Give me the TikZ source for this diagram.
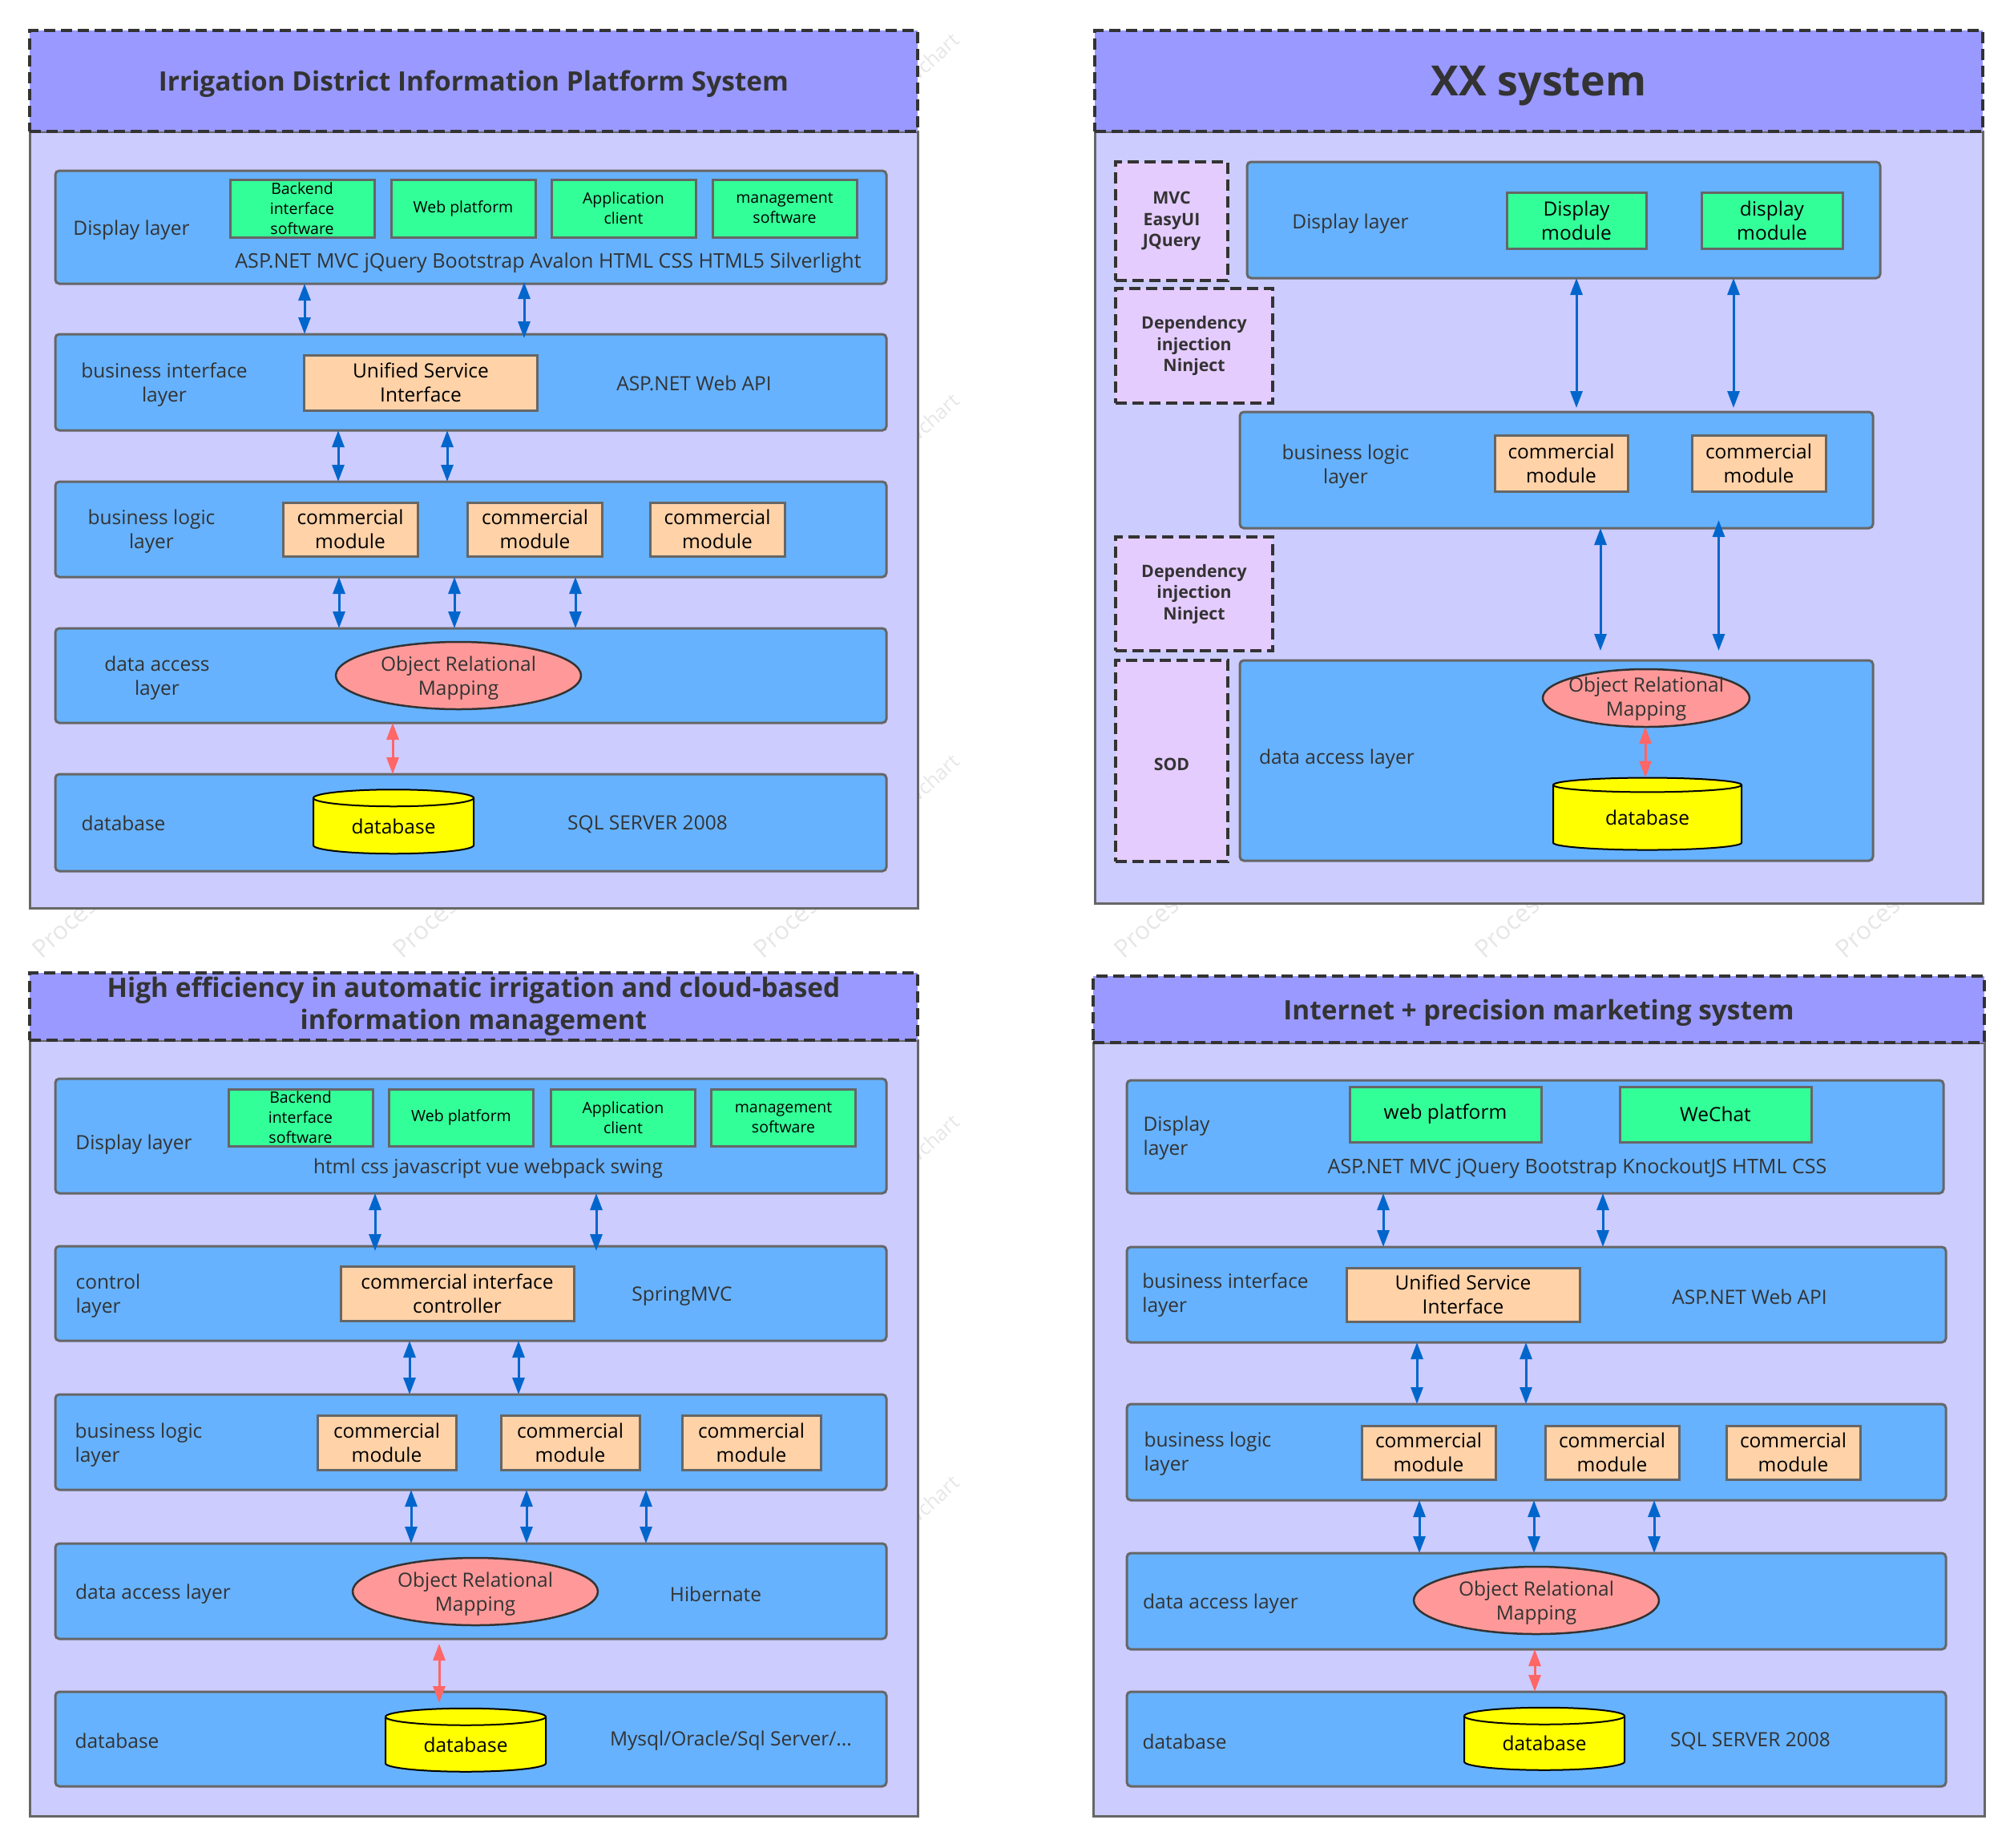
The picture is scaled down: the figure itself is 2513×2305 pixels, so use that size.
\documentclass[tikz,border=0pt]{standalone}
\usepackage{fontspec}
\setmainfont{Open Sans}
\usetikzlibrary{arrows.meta,shapes.geometric}
\definecolor{inktext}{HTML}{333333}
\definecolor{edgegray}{HTML}{666666}
\definecolor{headfill}{HTML}{9999FF}
\definecolor{bodyfill}{HTML}{CCCCFF}
\definecolor{layerfill}{HTML}{66B2FF}
\definecolor{greenfill}{HTML}{33FF99}
\definecolor{orangefill}{HTML}{FFD2A8}
\definecolor{pinkfill}{HTML}{FF9999}
\definecolor{sidefill}{HTML}{E5CCFF}
\definecolor{dbfill}{HTML}{FFFF00}
\definecolor{bluearrow}{HTML}{0066CC}
\definecolor{redarrow}{HTML}{FF6666}
\definecolor{markgray}{HTML}{E6E6E6}
\tikzset{
  wh/.style 2 args={minimum width=#1pt,minimum height=#2pt},
  topstrut/.style={execute at begin node={\rule{0pt}{#1pt}}},
  boxbase/.style={shape=rectangle,inner sep=0pt,outer sep=0pt,align=center},
  sysbody/.style={boxbase,draw=edgegray,line width=3pt,fill=bodyfill},
  syshead/.style={boxbase,draw=inktext,line width=3.5pt,dash pattern=on 14pt off 7pt,fill=headfill,text=inktext,font=\bfseries\fontsize{33.4}{40}\selectfont,topstrut=33},
  sidebox/.style={boxbase,draw=inktext,line width=3.5pt,dash pattern=on 14pt off 7pt,fill=sidefill,text=inktext,font=\bfseries\fontsize{21.3}{26.5}\selectfont,topstrut=24},
  layerbox/.style={boxbase,draw=edgegray,line width=3pt,fill=layerfill,rounded corners=5pt},
  greenbox/.style={boxbase,draw=edgegray,line width=3pt,fill=greenfill,font=\fontsize{19.5}{25}\selectfont},
  greenbig/.style={greenbox,font=\fontsize{24.5}{30}\selectfont},
  orangebox/.style={boxbase,draw=edgegray,line width=3pt,fill=orangefill,font=\fontsize{24.5}{30}\selectfont},
  ormbox/.style={shape=ellipse,inner sep=0pt,outer sep=0pt,draw=inktext,line width=2.5pt,fill=pinkfill},
  dbbox/.style={shape=cylinder,shape border rotate=90,aspect=0.2,inner sep=0pt,outer sep=0pt,draw=black,line width=2pt,cylinder uses custom fill,cylinder body fill=dbfill,cylinder end fill=dbfill,font=\fontsize{24.5}{30}\selectfont},
  tag/.style={inner sep=0pt,outer sep=0pt,text=inktext,align=center,font=\fontsize{24.5}{30}\selectfont,yshift=-3pt},
  tagleft/.style={tag,align=left},
  techtag/.style={tag,font=\fontsize{25.1}{30}\selectfont},
  markword/.style={inner sep=0pt,outer sep=0pt,rotate=42,text=markgray,font=\fontsize{25}{25}\selectfont},
  twoway/.style={{Triangle[length=21pt,width=15pt]}-{Triangle[length=21pt,width=15pt]},draw=bluearrow,fill=bluearrow,line width=3pt},
  redway/.style={twoway,draw=redarrow,fill=redarrow},
}
\begin{document}
\begin{tikzpicture}[x=1pt,y=-1pt]
  \useasboundingbox (0,0) rectangle (2513,2305);
  % faint marks in the gaps
  \foreach \i in {0,...,5}
    \node[markword,anchor=base west,font=\fontsize{31}{31}\selectfont] (markp\i) at (52+450*\i,1197) {Process};
  \foreach \i in {0,...,4}
    \node[markword,anchor=base east] (markc\i) at (1199,53+450*\i) {wchart};

  % irrigation district
  \node[sysbody,wh={1108}{969}] (bodyA) at (591,648.5) {};
  \node[syshead,wh={1108}{126}] (headA) at (591,101) {Irrigation District Information Platform System};
  \node[layerbox,wh={1037}{141}] (displayA) at (587.5,283.5) {};
  \node[layerbox,wh={1037}{120}] (ifaceA) at (587.5,477) {};
  \node[layerbox,wh={1037}{119}] (logicA) at (587.5,660.5) {};
  \node[layerbox,wh={1037}{118}] (accessA) at (587.5,843) {};
  \node[layerbox,wh={1037}{121}] (dbaseA) at (587.5,1026.5) {};
  \node[greenbox,wh={180}{72}] (backA) at (377,260) {Backend\\interface\\software};
  \node[greenbox,wh={180}{72}] (webA) at (578,260) {Web platform};
  \node[greenbox,wh={180}{72}] (appA) at (778,260) {Application\\client};
  \node[greenbox,wh={180}{72}] (mgmtA) at (979,260) {management\\software};
  \node[orangebox,wh={291}{69}] (usiA) at (525,477.5) {Unified Service\\Interface};
  \node[orangebox,wh={168}{67}] (modAa) at (437,660.5) {commercial\\module};
  \node[orangebox,wh={168}{67}] (modAb) at (667.5,660.5) {commercial\\module};
  \node[orangebox,wh={168}{67}] (modAc) at (895,660.5) {commercial\\module};
  \node[ormbox,wh={306}{84}] (ormA) at (572,843) {};
  \node[tag] (ormtextA) at (572,843) {Object Relational\\Mapping};
  \node[dbbox,wh={200}{80}] (cylA) at (491,1031) {database};
  \node[tag] (t1) at (164,284) {Display layer};
  \node[techtag] (t2) at (684,325) {ASP.NET MVC jQuery Bootstrap Avalon HTML CSS HTML5 Silverlight};
  \node[tag] (t3) at (205,477) {business interface\\layer};
  \node[tag] (t4) at (866,475) {ASP.NET Web API};
  \node[tag] (t5) at (189,660) {business logic\\layer};
  \node[tag] (t6) at (196,843) {data access\\layer};
  \node[tag] (t7) at (154,1024) {database};
  \node[tag] (t8) at (808,1026) {SQL SERVER 2008};

  % xx system
  \node[sysbody,wh={1108}{963}] (bodyB) at (1920,645.5) {};
  \node[syshead,wh={1108}{126},font=\bfseries\fontsize{52}{60}\selectfont,topstrut=49] (headB) at (1920,101) {XX system};
  \node[sidebox,wh={140}{148}] (sideBa) at (1462,276) {MVC\\EasyUI\\JQuery};
  \node[sidebox,wh={196}{143}] (sideBb) at (1490,431.5) {Dependency\\injection\\Ninject};
  \node[sidebox,wh={196}{142}] (sideBc) at (1490,741) {Dependency\\injection\\Ninject};
  \node[sidebox,wh={140}{251},topstrut=16] (sideBd) at (1462,949.5) {SOD};
  \node[layerbox,wh={790}{145}] (displayB) at (1951,274.5) {};
  \node[layerbox,wh={790}{145}] (logicB) at (1942,586.5) {};
  \node[layerbox,wh={790}{250}] (accessB) at (1942,949) {};
  \node[greenbig,wh={174}{70}] (dispBa) at (1967,275) {Display\\module};
  \node[greenbig,wh={176}{70}] (dispBb) at (2211,275) {display\\module};
  \node[orangebox,wh={166}{70}] (modBa) at (1948,578) {commercial\\module};
  \node[orangebox,wh={167}{70}] (modBb) at (2194.5,578) {commercial\\module};
  \node[ormbox,wh={258}{72}] (ormB) at (2054,871) {};
  \node[tag] (ormtextB) at (2054,869) {Object Relational\\Mapping};
  \node[dbbox,wh={235}{90},aspect=0.17] (cylB) at (2055.5,1020.5) {database};
  \node[tag] (t9) at (1685,276) {Display layer};
  \node[tag] (t10) at (1679,579) {business logic\\layer};
  \node[tag] (t11) at (1668,944) {data access layer};

  % automatic irrigation
  \node[sysbody,wh={1108}{968}] (bodyC) at (591,1782) {};
  \node[syshead,wh={1108}{84}] (headC) at (591,1256) {High efficiency in automatic irrigation and cloud-based\\information management};
  \node[layerbox,wh={1037}{143}] (displayC) at (587.5,1417.5) {};
  \node[layerbox,wh={1037}{118}] (ifaceC) at (587.5,1614) {};
  \node[layerbox,wh={1037}{119}] (logicC) at (587.5,1799.5) {};
  \node[layerbox,wh={1037}{119}] (accessC) at (587.5,1985.5) {};
  \node[layerbox,wh={1037}{118}] (dbaseC) at (587.5,2170) {};
  \node[greenbox,wh={180}{71}] (backC) at (375,1394.5) {Backend\\interface\\software};
  \node[greenbox,wh={180}{71}] (webC) at (575.5,1394.5) {Web platform};
  \node[greenbox,wh={180}{71}] (appC) at (777.5,1394.5) {Application\\client};
  \node[greenbox,wh={180}{71}] (mgmtC) at (977.5,1394.5) {management\\software};
  \node[orangebox,wh={291}{68}] (ctrlC) at (570.5,1614) {commercial interface\\controller};
  \node[orangebox,wh={173}{68}] (modCa) at (482.5,1800) {commercial\\module};
  \node[orangebox,wh={173}{68}] (modCb) at (711.5,1800) {commercial\\module};
  \node[orangebox,wh={173}{68}] (modCc) at (937.5,1800) {commercial\\module};
  \node[ormbox,wh={306}{84}] (ormC) at (593,1986) {};
  \node[tag] (ormtextC) at (593,1986) {Object Relational\\Mapping};
  \node[dbbox,wh={200}{79}] (cylC) at (581,2177) {database};
  \node[tag] (t12) at (167,1425) {Display layer};
  \node[tag] (t13) at (609,1455) {html css javascript vue webpack swing};
  \node[tagleft] (t14) at (135,1614) {control\\layer};
  \node[tag] (t15) at (851,1614) {SpringMVC};
  \node[tagleft] (t16) at (173,1800) {business logic\\layer};
  \node[tag] (t17) at (191,1986) {data access layer};
  \node[tag] (t18) at (893,1986) {Hibernate};
  \node[tag] (t19) at (146,2169) {database};
  \node[tag] (t20) at (912,2169) {Mysql/Oracle/Sql Server/...};

  % precision marketing
  \node[sysbody,wh={1112}{965}] (bodyD) at (1920,1783.5) {};
  \node[syshead,wh={1112}{83}] (headD) at (1920,1259.5) {Internet + precision marketing system};
  \node[layerbox,wh={1019}{141}] (displayD) at (1915.5,1418.5) {};
  \node[layerbox,wh={1022}{119}] (ifaceD) at (1917,1615.5) {};
  \node[layerbox,wh={1022}{120}] (logicD) at (1917,1812) {};
  \node[layerbox,wh={1022}{120}] (accessD) at (1917,1998) {};
  \node[layerbox,wh={1022}{118}] (dbaseD) at (1917,2170) {};
  \node[greenbig,wh={239}{69}] (webD) at (1803.5,1390.5) {web platform};
  \node[greenbig,wh={239}{69}] (wechatD) at (2140.5,1390.5) {WeChat};
  \node[orangebox,wh={291}{67}] (usiD) at (1825.5,1615.5) {Unified Service\\Interface};
  \node[orangebox,wh={167}{67}] (modDa) at (1782.5,1812.5) {commercial\\module};
  \node[orangebox,wh={167}{67}] (modDb) at (2011.5,1812.5) {commercial\\module};
  \node[orangebox,wh={167}{67}] (modDc) at (2237.5,1812.5) {commercial\\module};
  \node[ormbox,wh={306}{84}] (ormD) at (1917,1997) {};
  \node[tag] (ormtextD) at (1917,1997) {Object Relational\\Mapping};
  \node[dbbox,wh={200}{78}] (cylD) at (1927,2175.5) {database};
  \node[tagleft] (t21) at (1468,1417) {Display\\layer};
  \node[techtag] (t22) at (1968,1455) {ASP.NET MVC jQuery Bootstrap KnockoutJS HTML CSS};
  \node[tagleft] (t23) at (1529,1613) {business interface\\layer};
  \node[tag] (t24) at (2183,1615) {ASP.NET Web API};
  \node[tagleft] (t25) at (1507,1811) {business logic\\layer};
  \node[tag] (t26) at (1523,1998) {data access layer};
  \node[tag] (t27) at (1478,2170) {database};
  \node[tag] (t28) at (2184,2170) {SQL SERVER 2008};

  % connectors
  \foreach \x/\a/\b in {380/displayA/ifaceA,422/ifaceA/logicA,558/ifaceA/logicA,
                        423/logicA/accessA,567/logicA/accessA,718/logicA/accessA,
                        511/ifaceC/logicC,647/ifaceC/logicC,
                        513/logicC/accessC,657/logicC/accessC,806/logicC/accessC,
                        1726/displayD/ifaceD,2000/displayD/ifaceD,1768/ifaceD/logicD,1904/ifaceD/logicD,
                        1771/logicD/accessD,1914/logicD/accessD,2064/logicD/accessD}
    \draw[twoway] (\x,0 |- \a.south) -- (\x,0 |- \b.north);
  \draw[twoway,shorten <=-2pt,shorten >=-5pt] (654,0 |- displayA.south) -- (654,0 |- ifaceA.north);
  \draw[twoway,shorten >=5pt] (1967,0 |- displayB.south) -- (1967,0 |- logicB.north);
  \draw[twoway,shorten >=5pt] (2163,0 |- displayB.south) -- (2163,0 |- logicB.north);
  \draw[twoway,shorten >=12pt] (1997,0 |- logicB.south) -- (1997,0 |- accessB.north);
  \draw[twoway,shorten <=-10pt,shorten >=12pt] (2144.5,0 |- logicB.south) -- (2144.5,0 |- accessB.north);
  \draw[twoway,shorten >=-6pt] (468,0 |- displayC.south) -- (468,0 |- ifaceC.north);
  \draw[twoway,shorten >=-6pt] (744,0 |- displayC.south) -- (744,0 |- ifaceC.north);
  \draw[redway] (490,0 |- accessA.south) -- (490,0 |- dbaseA.north);
  \draw[redway] (2053,0 |- ormB.south) -- (2053,0 |- cylB.north);
  \draw[redway,shorten <=6pt,shorten >=-14pt] (548,0 |- accessC.south) -- (548,0 |- dbaseC.north);
  \draw[redway] (1915,0 |- accessD.south) -- (1915,0 |- dbaseD.north);
\end{tikzpicture}
\end{document}
